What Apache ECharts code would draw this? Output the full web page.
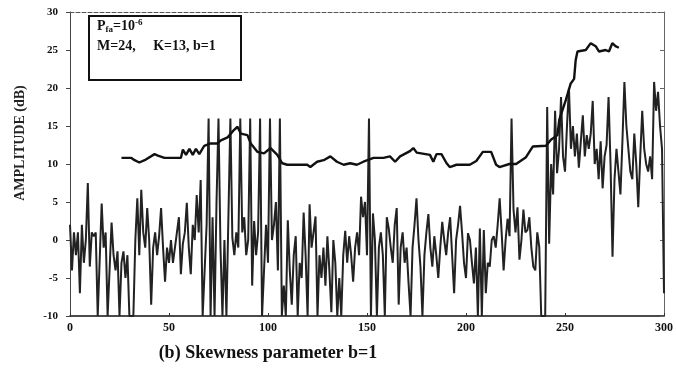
<!DOCTYPE html>
<html>
<head>
<meta charset="utf-8">
<script src="https://cdn.jsdelivr.net/npm/echarts@6/dist/echarts.min.js"></script>
<style>html,body{margin:0;padding:0;background:#fff}#c{width:676px;height:372px}</style>
</head>
<body>
<div id="c"></div>
<script>
// Noise signal sampled at x = 0,1,2,...,300
const noiseY = [
 2,-4,1,-2,1,-7,2,-3,0,7.5,
 -3.5,1,0.5,1,-10,-10,4.8,-1,1,-10,
 -10,2.3,-2,-4,-1.5,-10,-3,-1.5,-5,-2,
 -10,-10,-10,0,5.5,-2,6.6,1,-1,4.2,
 0,-8.5,-1,1,-2,0.5,4.2,-1,-5.5,-1,
 -3,0,-3,-1,1,3,-4.5,-0.5,1,4.9,
 -1,-4.5,2,0,5.9,1,7.9,-10,-10,2,
 16,-10,3,-10,5,16,-1,-10,0,-10,
 3,16,0.3,-2,1,-1,16,1,3,-2,
 0,16,-6,2.5,-2,1,16,-10,-10,2,
 -3,16,0,2,5,-4,16,-10,-6,-10,
 2.6,-4,-8.5,-2,0.5,-10,-3,-5,3.6,-2,
 -10,4.7,-1,1,3.1,-10,-2,-5,-1,-6,
 0.5,-4,-9.5,0,-3,-10,-5,-10,-2,1.2,
 -3,0.5,-2,-5.5,-1,1,-2,5.7,3,5,
 -2,16,-10,3.5,0,-10,-1,1,-2,-10,
 3,1.5,-1,-3,2,4.2,-8.5,-1,1,-3,
 -1,-5.7,-10,-1,2,5.5,0,-3.5,-10,-2,
 1,3.4,-1,-3.5,0.5,-2,-5,-1,2.4,0,
 -2,1,3,-2,-7,0,2,4.5,1,-3,
 -5,0.9,0,-3,-5.7,-1,-10,1.5,-10,1.3,
 -7,-3,-3.5,0,0.5,-1,2,5.5,1,-4,
 0,2.8,0.5,16,4,1,4.3,-2.6,0,4,
 1,1.3,3,-1,-3.5,-4,1,-0.9,-10,-10,
 -10,17.5,-0.5,10,6,17,8.8,12,18.8,11,
 9,15,20,12,15,11,14,9.5,13,16.4,
 11,13.8,12,14,18.3,10,12,8,13,6.8,
 11,12.5,18.8,10,-2.2,8,12,9,6,13,
 20.8,15,12,9,8,14,10,4.3,11,17,
 12,10,9,11,8,20.8,17,19.5,15,12,
 -7
];
// Detection threshold curve
const thrX = [26,31,32.6,35,37.7,42.7,44.4,47.7,56,57,58.6,60.3,62,63.6,65.3,67.8,71,74.5,76.2,79.6,82.9,84.6,86.3,89.6,91.3,94.6,98,101.3,104.7,107.2,109.7,119.8,121.4,124.8,128.1,131.5,134.8,138.2,141.5,144.9,148.2,153.3,158.3,161.6,164.2,166.7,171.7,173.4,175.1,181.8,183.5,185.1,187.6,190.2,191.8,195.2,201.9,205.2,208.5,212.7,215.2,216.9,221.9,225.3,230.3,233.7,240.4,242.9,246.2,247.1,250.4,252.9,254.6,255.4,256.3,260.5,263,265.5,267.2,270.5,272.2,273.9,275.5,277.2];
const thrY = [10.8,10.8,10.5,10.2,10.5,11.3,11.1,10.8,10.8,11.9,11.2,12,11.2,12,11.3,12.4,12.7,12.7,13.1,13.5,14.5,14.9,14,13.8,12.7,11.6,11.4,12.1,11.2,10.1,9.9,9.9,9.6,10.3,10.5,11,10.3,9.9,10.1,9.9,10.3,10.8,10.8,11,10.3,11,11.7,12.1,11.5,11.2,10.3,11.3,11.3,10.1,9.6,9.9,9.9,10.4,11.6,11.6,9.9,9.6,10,10,10.9,12.3,12.4,13.2,13.8,15.8,18.4,20.6,21.2,23.7,24.8,25,25.9,25.5,24.8,25,24.8,25.9,25.5,25.3];
const xTicks = [0,50,100,150,200,250,300];
const yTicks = [-10,-5,0,5,10,15,20,25,30];

const noiseData = noiseY.map((v,i)=>[i,v]);
const thrData = thrX.map((x,i)=>[x,thrY[i]]);
const FF = '"Liberation Serif","DejaVu Serif",serif';

const chart = echarts.init(document.getElementById('c'));
chart.setOption({
  animation:false,
  backgroundColor:'#fff',
  grid:{left:70,right:9,top:12,bottom:56},
  xAxis:[{
    type:'value',min:xTicks[0],max:xTicks[xTicks.length-1],interval:50,
    axisLine:{onZero:false,lineStyle:{color:'#111',width:1.5}},
    axisTick:{inside:true,length:3,lineStyle:{color:'#333'}},
    axisLabel:{color:'#111',fontFamily:FF,fontWeight:'bold',fontSize:12,margin:6},
    splitLine:{show:false}
  },{
    type:'value',position:'top',min:0,max:300,interval:50,
    axisLine:{show:true,onZero:false,lineStyle:{color:'#555',width:1,type:'dashed'}},
    axisTick:{show:false},axisLabel:{show:false},splitLine:{show:false}
  }],
  yAxis:[{
    type:'value',min:yTicks[0],max:yTicks[yTicks.length-1],interval:5,
    axisLine:{show:true,onZero:false,lineStyle:{color:'#444',width:1}},
    axisTick:{show:true,length:4,lineStyle:{color:'#444'}},
    axisLabel:{color:'#111',fontFamily:FF,fontWeight:'bold',fontSize:11,margin:12},
    splitLine:{show:false}
  },{
    type:'value',position:'right',min:-10,max:30,interval:5,
    axisLine:{show:true,onZero:false,lineStyle:{color:'#666',width:1}},
    axisTick:{show:true,inside:true,length:4,lineStyle:{color:'#666'}},
    axisLabel:{show:false},splitLine:{show:false}
  }],
  series:[{
    type:'line',data:noiseData,showSymbol:false,
    lineStyle:{color:'#222',width:2},z:2
  },{
    type:'line',data:thrData,showSymbol:false,
    lineStyle:{color:'#111',width:2.4},z:3
  }],
  graphic:[
    {type:'rect',left:88,top:15,shape:{width:152,height:64},
     style:{fill:'#fff',stroke:'#111',lineWidth:2},z:10},
    {type:'text',left:97,top:18,z:11,
     style:{rich:{
       a:{fontFamily:FF,fontWeight:'bold',fontSize:14,fill:'#111'},
       s:{fontFamily:FF,fontWeight:'bold',fontSize:9,fill:'#111',verticalAlign:'bottom',padding:[7,0,0,0]},
       p:{fontFamily:FF,fontWeight:'bold',fontSize:9,fill:'#111',verticalAlign:'top',padding:[0,0,7,0]}
     },text:'{a|P}{s|fa}{a|=10}{p|-6}'}},
    {type:'text',left:97,top:39,z:11,
     style:{text:'M=24,     K=13, b=1',font:'bold 14px '+FF,fill:'#111'}},
    {type:'text',x:20,y:143,rotation:Math.PI/2,z:11,
     style:{text:'AMPLITUDE (dB)',font:'bold 14px '+FF,fill:'#222',align:'center',verticalAlign:'middle'}},
    {type:'text',x:268,y:353,z:11,
     style:{text:'(b) Skewness parameter b=1',font:'bold 18px '+FF,fill:'#111',align:'center',verticalAlign:'middle'}}
  ]
});
</script>
</body>
</html>
